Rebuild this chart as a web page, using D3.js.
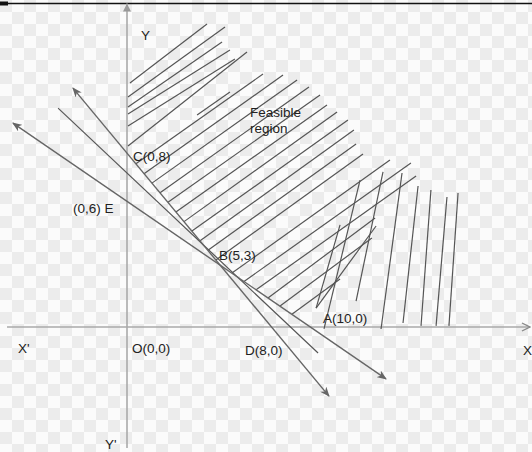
<!DOCTYPE html>
<html>
<head>
<meta charset="utf-8">
<script src="https://cdn.jsdelivr.net/npm/d3@7"></script>
<style>
  body { margin: 0; background: #fff; }
  text { font-family: "Liberation Sans", Arial, sans-serif; font-size: 13.5px; fill: #222; }
</style>
</head>
<body>
<div id="chart"></div>
<script>
const W = 532, H = 452;

// axis extents (data units)
const xAxisExtent = [-6.06, 20.35];
const yAxisExtent = [-5.5, 14.7];

// the three lines through B, as drawn: [x1, y1, x2, y2]
const steepLine = [-2.73, 10.86, 10.2, -3.14];   // x + y = 8
const shallowLine = [-5.76, 9.27, 13.08, -2.36]; // 3x + 5y = 30
const middleLine = [-3.48, 9.95, 9.65, -1.18];

// hatching of the feasible region: [x1, y1, x2, y2]
const hatchDiagonal = [
  [0.15, 11.09, 4.04, 13.77],
  [0.05, 10.45, 4.95, 13.64],
  [0.05, 10.0, 4.80, 12.95],
  [0.05, 9.68, 5.20, 12.59],
  [0.05, 9.14, 5.45, 12.18],
  [0.05, 8.23, 6.06, 12.5],
  [3.54, 9.64, 5.2, 10.68],
  [0.45, 7.42, 6.87, 11.5],
  [0.86, 6.97, 7.88, 11.45],
  [1.26, 6.54, 8.59, 11.23],
  [1.67, 6.10, 9.19, 10.91],
  [2.07, 5.67, 9.75, 10.55],
  [2.47, 5.23, 10.1, 10.09],
  [2.88, 4.79, 10.61, 9.77],
  [3.28, 4.36, 11.16, 9.41],
  [3.69, 3.92, 11.46, 8.95],
  [4.09, 3.49, 11.57, 8.32],
  [4.49, 3.05, 11.92, 7.86],
  [5.30, 2.45, 13.28, 7.59],
  [5.91, 2.07, 14.34, 7.45],
  [6.52, 1.69, 14.6, 6.86],
  [7.12, 1.32, 12.53, 4.95],
  [7.73, 0.95, 12.37, 4.05],
  [8.33, 0.58, 10.76, 2.18],
  [9.55, 0.86, 12.58, 4.59]
];
const hatchSteep = [
  [9.55, 0.86, 10.76, 4.64],
  [9.95, -0.09, 11.77, 6.68],
  [11.57, 1.18, 12.93, 7.05],
  [12.83, -0.09, 13.89, 7.0],
  [13.94, 0.18, 14.7, 6.41],
  [14.85, 0.05, 15.35, 6.23],
  [15.61, 0.05, 16.16, 5.91],
  [16.26, 0.05, 16.72, 6.09]
];

// labels: [text, x, y] (left edge, baseline)
const labels = [
  ["Y", 0.71, 13.05],
  ["C(0,8)", 0.30, 7.55],
  ["(0,6) E", -2.73, 5.18],
  ["B(5,3)", 4.65, 3.05],
  ["Feasible", 6.21, 9.55],
  ["region", 6.21, 8.84],
  ["A(10,0)", 9.9, 0.18],
  ["D(8,0)", 5.96, -1.27],
  ["O(0,0)", 0.25, -1.18],
  ["X'", -5.5, -1.18],
  ["X", 20.0, -1.27],
  ["Y'", -1.11, -5.55]
];

const x = d3.scaleLinear().domain([0, 10]).range([127, 325]);
const y = d3.scaleLinear().domain([0, 8]).range([327, 151]);

const svg = d3.select("#chart").append("svg")
  .attr("width", W)
  .attr("height", H);

const defs = svg.append("defs");

// faint checker background
const pat = defs.append("pattern")
  .attr("id", "checker")
  .attr("width", 24).attr("height", 24)
  .attr("patternUnits", "userSpaceOnUse");
pat.append("rect").attr("width", 24).attr("height", 24).attr("fill", "#fbfbfb");
pat.append("rect").attr("width", 12).attr("height", 12).attr("fill", "#ececec");
pat.append("rect").attr("x", 12).attr("y", 12).attr("width", 12).attr("height", 12).attr("fill", "#ececec");

defs.append("marker")
  .attr("id", "arrow")
  .attr("viewBox", "0 0 10 8")
  .attr("refX", 9).attr("refY", 4)
  .attr("markerWidth", 10).attr("markerHeight", 8)
  .attr("markerUnits", "userSpaceOnUse")
  .attr("orient", "auto-start-reverse")
  .append("path")
  .attr("d", "M0,0 L10,4 L0,8 L3,4 Z")
  .attr("fill", "#666");

defs.append("marker")
  .attr("id", "chev")
  .attr("viewBox", "0 0 10 10")
  .attr("refX", 9).attr("refY", 5)
  .attr("markerWidth", 10).attr("markerHeight", 10)
  .attr("markerUnits", "userSpaceOnUse")
  .attr("orient", "auto")
  .append("path")
  .attr("d", "M1,1 L9,5 L1,9")
  .attr("fill", "none")
  .attr("stroke", "#888")
  .attr("stroke-width", 1.3);

defs.append("marker")
  .attr("id", "yarrow")
  .attr("viewBox", "0 0 8 10")
  .attr("refX", 8).attr("refY", 5)
  .attr("markerWidth", 8).attr("markerHeight", 10)
  .attr("markerUnits", "userSpaceOnUse")
  .attr("orient", "auto")
  .append("path")
  .attr("d", "M0,1 L8,5 L0,9 Z")
  .attr("fill", "#999");

svg.append("rect").attr("width", W).attr("height", H).attr("fill", "url(#checker)");

// frame line at top
svg.append("line").attr("x1", 0).attr("x2", W).attr("y1", 3.5).attr("y2", 3.5)
  .attr("stroke", "#111").attr("stroke-width", 1.4);
svg.append("rect").attr("x", 0).attr("y", 1.5).attr("width", 8).attr("height", 4).attr("fill", "#111");

// axes
svg.append("line")
  .attr("x1", x(xAxisExtent[0])).attr("x2", x(xAxisExtent[1]))
  .attr("y1", y(0)).attr("y2", y(0))
  .attr("stroke", "#aaa").attr("stroke-width", 1.6)
  .attr("marker-end", "url(#chev)");
svg.append("line")
  .attr("x1", x(0)).attr("x2", x(0))
  .attr("y1", y(yAxisExtent[0])).attr("y2", y(yAxisExtent[1]))
  .attr("stroke", "#aaa").attr("stroke-width", 1.6)
  .attr("marker-end", "url(#yarrow)");

// hatching
svg.append("g").selectAll("line")
  .data(hatchDiagonal.concat(hatchSteep))
  .enter().append("line")
  .attr("x1", d => x(d[0])).attr("y1", d => y(d[1]))
  .attr("x2", d => x(d[2])).attr("y2", d => y(d[3]))
  .attr("stroke", "#555")
  .attr("stroke-width", 1.2);

// constraint lines
svg.append("line")
  .datum(middleLine)
  .attr("x1", d => x(d[0])).attr("y1", d => y(d[1]))
  .attr("x2", d => x(d[2])).attr("y2", d => y(d[3]))
  .attr("stroke", "#555").attr("stroke-width", 1.2);

svg.selectAll(".cline")
  .data([steepLine, shallowLine])
  .enter().append("line")
  .attr("class", "cline")
  .attr("x1", d => x(d[0])).attr("y1", d => y(d[1]))
  .attr("x2", d => x(d[2])).attr("y2", d => y(d[3]))
  .attr("stroke", "#666").attr("stroke-width", 1.4)
  .attr("marker-start", "url(#arrow)")
  .attr("marker-end", "url(#arrow)");

// labels
svg.selectAll(".lbl")
  .data(labels)
  .enter().append("text")
  .attr("class", "lbl")
  .attr("x", d => x(d[1]))
  .attr("y", d => y(d[2]))
  .text(d => d[0]);
</script>
</body>
</html>
